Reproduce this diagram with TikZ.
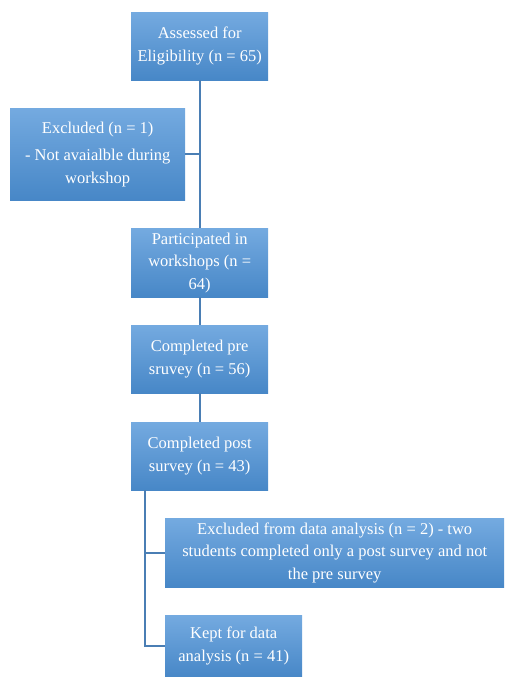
\documentclass[tikz,border=0pt]{standalone}
\usepackage{fontspec}
\setmainfont{Liberation Serif}
\definecolor{boxtop}{HTML}{74AAE0}
\definecolor{boxbot}{HTML}{4787C7}
\definecolor{linec}{HTML}{4A7EB4}
\begin{document}
\begin{tikzpicture}[x=1pt,y=1pt,
  box/.style={rectangle, top color=boxtop, bottom color=boxbot, draw=none,
    text=white, align=center, inner sep=0pt, anchor=north west,
    font=\fontsize{16.5}{22.5}\selectfont},
  conn/.style={draw=linec, line width=1.6pt}]
\useasboundingbox (0,0) rectangle (504,-677);
\node[box, minimum width=137, minimum height=68] (a) at (131,-12) {Assessed for\\Eligibility (n = 65)};
\node[box, minimum width=175, minimum height=92] (b) at (10,-108) {Excluded (n = 1)\\[5pt]- Not avaialble during\\workshop};
\node[box, minimum width=137, minimum height=69] (c) at (131,-228) {Participated in\\workshops (n =\\64)};
\node[box, minimum width=137, minimum height=68] (d) at (131,-325) {Completed pre\\sruvey (n = 56)};
\node[box, minimum width=137, minimum height=68] (e) at (131,-422) {Completed post\\survey (n = 43)};
\node[box, minimum width=339, minimum height=69] (f) at (165,-518) {Excluded from data analysis (n = 2) - two\\students completed only a post survey and not\\the pre survey};
\node[box, minimum width=137, minimum height=62] (g) at (165,-615) {Kept for data\\analysis (n = 41)};
\coordinate (j1) at (a.south |- b.east);
\draw[conn] (a.south) -- (c.north);
\draw[conn] (b.east) -- (j1);
\draw[conn] (c.south) -- (d.north);
\draw[conn] (d.south) -- (e.north);
\coordinate (s) at (145,-490);
\draw[conn] (s) -- (s |- g.west) -- (g.west);
\draw[conn] (s |- f.west) -- (f.west);
\end{tikzpicture}
\end{document}
